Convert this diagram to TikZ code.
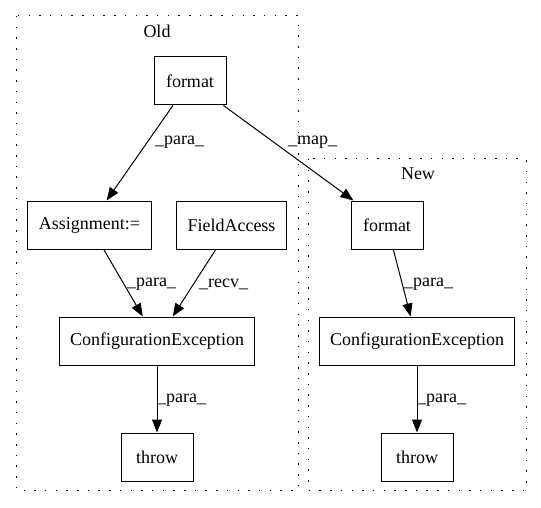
\documentclass[tikz,border=0pt]{standalone}
\usepackage{fontspec}
\setmainfont{Liberation Serif}
\usepackage{tikz}
\usetikzlibrary{arrows.meta,positioning}

\begin{document}
\begin{tikzpicture}[
    x=1pt, y=-1pt,
    box/.style={rectangle, draw, line width=1pt, minimum width=72pt, minimum height=48pt, inner xsep=11pt, font=\fontsize{18}{21}\selectfont},
    cluster/.style={draw, line width=1pt, dash pattern=on 1.5pt off 9.2pt},
    lbl/.style={anchor=west, inner sep=0pt, font=\fontsize{18}{21}\selectfont},
    arrow/.style={-{Triangle[length=13pt,width=10pt]}, line width=1pt}
]
\useasboundingbox (0,0) rectangle (541,508);

% Clusters
\draw[cluster] (16,16) rectangle (298,490);
\draw[cluster] (308,159) rectangle (526,490);
\node[lbl, anchor=center] (oldlbl) at (157,31) {Old};
\node[lbl, anchor=center] (newlbl) at (418,174) {New};

% Old
\node[box] (fmtold) at (190,81) {format};
\node[box] (assign) at (89.5,225) {Assignment:=};
\node[box] (field) at (231.5,225) {FieldAccess};
\node[box] (ceold) at (157,341) {ConfigurationException};
\node[box] (throwold) at (157,457) {throw};

% New
\node[box] (fmtnew) at (387,225) {format};
\node[box] (cenew) at (417,341) {ConfigurationException};
\node[box] (thrownew) at (417,457) {throw};

% Edges
\draw[arrow] (fmtold) -- (assign);
\draw[arrow] (fmtold) -- (fmtnew);
\draw[arrow] (assign) -- (ceold);
\draw[arrow] (field) -- (ceold);
\draw[arrow] (ceold) -- (throwold);
\draw[arrow] (fmtnew) -- (cenew);
\draw[arrow] (cenew) -- (thrownew);

% Edge labels
\node[lbl] (l1) at (155,142) {\_para\_};
\node[lbl] (l2) at (288,142) {\_map\_};
\node[lbl] (l3) at (127,284) {\_para\_};
\node[lbl] (l4) at (199,284) {\_recv\_};
\node[lbl] (l5) at (404,284) {\_para\_};
\node[lbl] (l6) at (157,400) {\_para\_};
\node[lbl] (l7) at (417,400) {\_para\_};
\end{tikzpicture}
\end{document}
